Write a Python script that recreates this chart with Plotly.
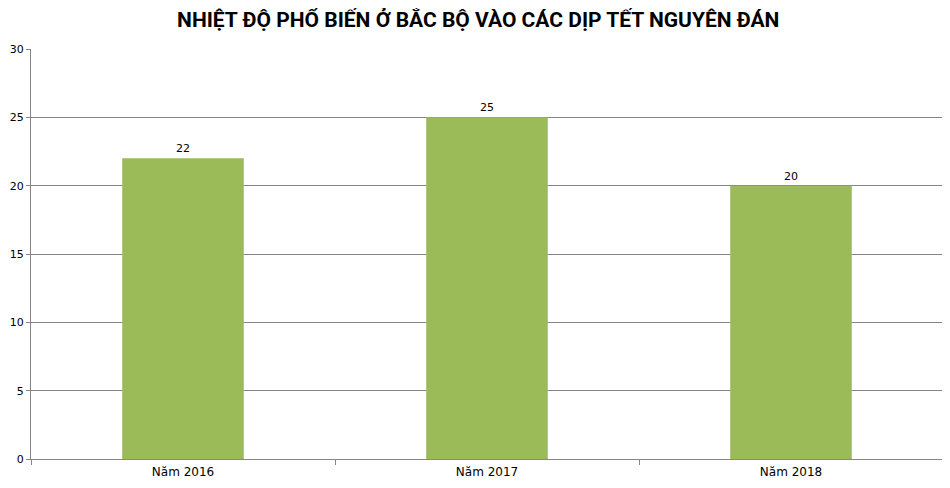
import plotly.graph_objects as go

# data
categories = ["Năm 2016", "Năm 2017", "Năm 2018"]
temperatures = [22, 25, 20]
y_ticks = [0, 5, 10, 15, 20, 25, 30]

fig = go.Figure(go.Bar(
    x=categories,
    y=temperatures,
    text=temperatures,
    textposition="outside",
    textfont=dict(family="DejaVu Sans, Verdana", size=11, color="#000000"),
    cliponaxis=False,
    marker=dict(color="#9BBB59", line=dict(width=0)),
    width=0.4,
))

# the page body adds an 8px offset, so margins are shifted to compensate
fig.update_layout(
    width=950, height=488,
    paper_bgcolor="white", plot_bgcolor="white",
    margin=dict(l=23, r=15, t=41, b=37, autoexpand=False),
    showlegend=False,
    title=dict(
        text="<b>NHIỆT ĐỘ PHỔ BIẾN Ở BẮC BỘ VÀO CÁC DỊP TẾT NGUYÊN ĐÁN</b>",
        x=0.495, xanchor="center", y=1 - 12 / 488, yanchor="middle",
        font=dict(family="Liberation Sans Narrow, Roboto, Arial", size=21, color="#000000"),
    ),
    font=dict(family="DejaVu Sans, Verdana", size=11, color="#000000"),
)

fig.update_xaxes(
    showline=True, linecolor="#868686", linewidth=1,
    ticks="outside", tickson="boundaries", ticklen=5, tickcolor="#868686",
    ticklabelstandoff=2, tickfont=dict(size=12),
    showgrid=False, automargin=False,
)
fig.update_yaxes(
    range=[0, 30], tickvals=y_ticks,
    showline=True, linecolor="#868686", linewidth=1,
    ticks="outside", ticklen=4, tickcolor="#868686",
    showgrid=True, gridcolor="#868686", gridwidth=1,
    zeroline=False, automargin=False,
)

fig.write_html("out.html")
